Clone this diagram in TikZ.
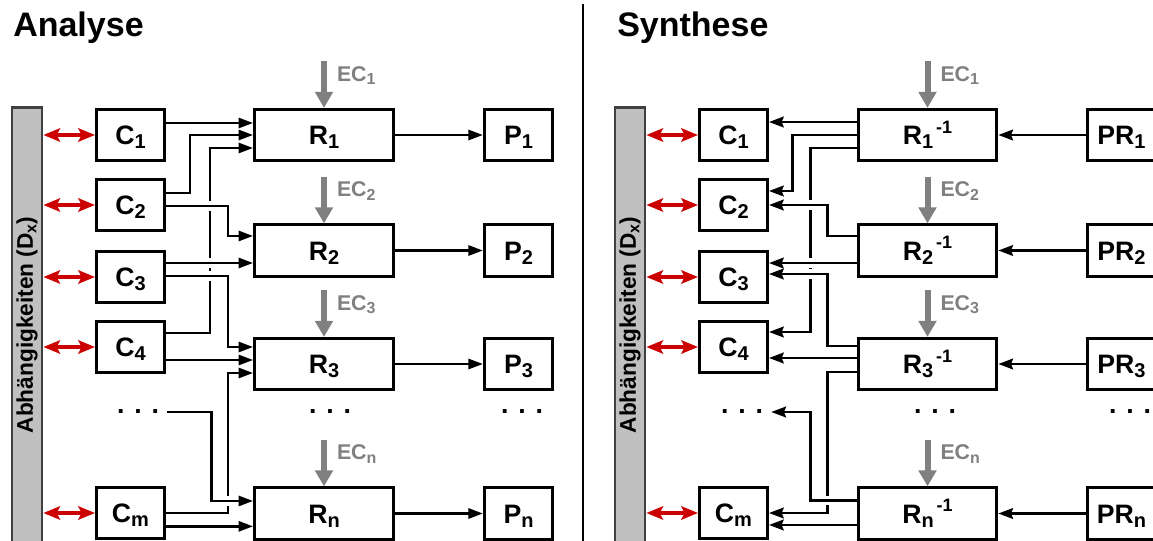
\documentclass[tikz,border=0pt]{standalone}
\usepackage{fontspec}
\setmainfont{Liberation Sans}
\usepackage{tikz}
\usetikzlibrary{arrows.meta, backgrounds, positioning}

\definecolor{depred}{RGB}{204,0,0}
\definecolor{ecgray}{RGB}{128,128,128}
\definecolor{barfill}{RGB}{192,192,192}
\definecolor{barline}{RGB}{64,64,64}

\newcommand{\lowtext}[2][15]{{\fontsize{#1}{#1}\selectfont\raisebox{-0.22em}{#2}}}
\newcommand{\hightext}[1]{{\kern2pt\fontsize{13.5}{13.5}\selectfont\raisebox{0.62em}{#1}}}

\tikzset{
  box/.style={draw, line width=2.2pt, fill=white, inner sep=0pt, minimum height=38.5pt,
    text height=16pt, text depth=1.7pt, font=\fontsize{20}{24}\selectfont\bfseries},
  cbox/.style={box, minimum width=51pt},
  rbox/.style={box, minimum width=104pt},
  dotrow/.style={inner xsep=6pt, inner ysep=0pt, font=\fontsize{20}{24}\selectfont\bfseries},
  depbar/.style={draw=barline, line width=2pt, fill=barfill, minimum width=22.5pt,
    minimum height=326pt, inner sep=0pt, font=\fontsize{17}{20}\selectfont\bfseries},
  heading/.style={anchor=base west, inner sep=0pt, font=\fontsize{25.5}{30}\selectfont\bfseries},
  link/.style={line width=2.1pt, -{Triangle[length=11pt, width=7.5pt]}},
  backlink/.style={line width=2.1pt, -{Stealth[length=11pt, width=8pt, inset=1.5pt]}},
  bridge/.style={preaction={draw=white, line width=7pt, -}},
  deparrow/.style={draw=depred, line width=3pt,
    {Stealth[length=12.5pt, width=10pt, inset=2.5pt]}-{Stealth[length=12.5pt, width=10pt, inset=2.5pt]}},
  ecarrow/.style={draw=ecgray, line width=4.5pt, -{Triangle[length=12pt, width=13pt]}},
  eclabel/.style={anchor=north west, inner sep=0pt, xshift=7.5pt, yshift=-1.5pt, text=ecgray,
    font=\fontsize{16}{19}\selectfont\bfseries},
}

\begin{document}
\begin{tikzpicture}[x=0.75pt, y=-0.75pt]
    \useasboundingbox (0,0) rectangle (1153,541);

    % Analyse
    \node[heading] (titleA) at (13,37) {Analyse};
    \node[depbar] (barA) at (27,325) {\rotatebox{90}{Abhängigkeiten (D\lowtext[12]{x})}};

    \node[cbox] (C1) at (130.5,135) {C\lowtext{1}};
    \node[cbox] (C2) at (130.5,205) {C\lowtext{2}};
    \node[cbox] (C3) at (130.5,277) {C\lowtext{3}};
    \node[cbox] (C4) at (130.5,347) {C\lowtext{4}};
    \node[dotrow] (Cdots) at (138,412) {. . .};
    \node[cbox] (Cm) at (130.5,513) {C\lowtext{m}};

    \node[rbox] (R1) at (324,135) {R\lowtext{1}};
    \node[rbox] (R2) at (324,250.5) {R\lowtext{2}};
    \node[rbox] (R3) at (324,364) {R\lowtext{3}};
    \node[dotrow] (Rdots) at (330,412) {. . .};
    \node[rbox] (Rn) at (324,513.5) {R\lowtext{n}};

    \node[cbox] (P1) at (518.5,135) {P\lowtext{1}};
    \node[cbox] (P2) at (518.5,250.5) {P\lowtext{2}};
    \node[cbox] (P3) at (518.5,364) {P\lowtext{3}};
    \node[dotrow] (Pdots) at (522,412) {. . .};
    \node[cbox] (Pn) at (518.5,513.5) {P\lowtext{n}};

    % Divider
    \draw[line width=1.5pt] (583,4) -- (583,541);

    % Synthese
    \node[heading] (titleS) at (617,37) {Synthese};
    \node[depbar] (barS) at (630,325) {\rotatebox{90}{Abhängigkeiten (D\lowtext[12]{x})}};

    \node[cbox] (C1s) at (733.5,135) {C\lowtext{1}};
    \node[cbox] (C2s) at (733.5,205) {C\lowtext{2}};
    \node[cbox] (C3s) at (733.5,277) {C\lowtext{3}};
    \node[cbox] (C4s) at (733.5,347) {C\lowtext{4}};
    \node[dotrow] (Cdotss) at (742,412) {. . .};
    \node[cbox] (Cms) at (733.5,513) {C\lowtext{m}};

    \node[rbox] (R1s) at (927.5,135) {R\lowtext{1}\hightext{-1}};
    \node[rbox] (R2s) at (927.5,250.5) {R\lowtext{2}\hightext{-1}};
    \node[rbox] (R3s) at (927.5,364) {R\lowtext{3}\hightext{-1}};
    \node[dotrow] (Rdotss) at (935,412) {. . .};
    \node[rbox] (Rns) at (927.5,513.5) {R\lowtext{n}\hightext{-1}};

    \node[cbox] (PR1) at (1121.5,135) {PR\lowtext{1}};
    \node[cbox] (PR2) at (1121.5,250.5) {PR\lowtext{2}};
    \node[cbox] (PR3) at (1121.5,364) {PR\lowtext{3}};
    \node[dotrow] (PRdots) at (1130,412) {. . .};
    \node[cbox] (PRn) at (1121.5,513.5) {PR\lowtext{n}};

    % External conditions
    \draw[ecarrow] ([yshift=35pt]R1.north) -- (R1.north) node[eclabel, pos=0] (ec1) {EC\lowtext[12]{1}};
    \draw[ecarrow] ([yshift=35pt]R2.north) -- (R2.north) node[eclabel, pos=0] (ec2) {EC\lowtext[12]{2}};
    \draw[ecarrow] ([yshift=35pt]R3.north) -- (R3.north) node[eclabel, pos=0] (ec3) {EC\lowtext[12]{3}};
    \draw[ecarrow] ([yshift=35pt]Rn.north) -- (Rn.north) node[eclabel, pos=0] (ecn) {EC\lowtext[12]{n}};
    \draw[ecarrow] ([yshift=35pt]R1s.north) -- (R1s.north) node[eclabel, pos=0] (ec1s) {EC\lowtext[12]{1}};
    \draw[ecarrow] ([yshift=35pt]R2s.north) -- (R2s.north) node[eclabel, pos=0] (ec2s) {EC\lowtext[12]{2}};
    \draw[ecarrow] ([yshift=35pt]R3s.north) -- (R3s.north) node[eclabel, pos=0] (ec3s) {EC\lowtext[12]{3}};
    \draw[ecarrow] ([yshift=35pt]Rns.north) -- (Rns.north) node[eclabel, pos=0] (ecns) {EC\lowtext[12]{n}};

    \begin{scope}[on background layer]
        % Dependencies
        \draw[deparrow] (C1.west -| barA.east) -- (C1.west);
        \draw[deparrow] (C2.west -| barA.east) -- (C2.west);
        \draw[deparrow] (C3.west -| barA.east) -- (C3.west);
        \draw[deparrow] (C4.west -| barA.east) -- (C4.west);
        \draw[deparrow] (Cm.west -| barA.east) -- (Cm.west);
        \draw[deparrow] (C1s.west -| barS.east) -- (C1s.west);
        \draw[deparrow] (C2s.west -| barS.east) -- (C2s.west);
        \draw[deparrow] (C3s.west -| barS.east) -- (C3s.west);
        \draw[deparrow] (C4s.west -| barS.east) -- (C4s.west);
        \draw[deparrow] (Cms.west -| barS.east) -- (Cms.west);

        % Analyse: C to R
        \draw[link] ([yshift=9pt]C1.east) -- ([yshift=9pt]C1.east -| R1.west);
        \draw[link] ([yshift=9pt]C2.east) -- ++(24,0) |- (R1.west);
        \draw[link] ([yshift=10.5pt]C4.east) -- ++(44,0) |- ([yshift=-9.75pt]R1.west);
        \draw[link] (Cm.east) -- ++(62,0) |- ([yshift=-6.75pt]R3.west);
        \draw[link] ([yshift=-9.75pt]C4.east) -- ([yshift=-9.75pt]C4.east -| R3.west);
        \draw[link] ([yshift=-10pt]Cm.east) -- ([yshift=-10pt]Cm.east -| Rn.west);
        \draw[link, bridge] ([yshift=-0.75pt]C2.east) -- ++(62,0) |- ([yshift=10.9pt]R2.west);
        \draw[link, bridge] ([yshift=10.5pt]C3.east) -- ([yshift=10.5pt]C3.east -| R2.west);
        \draw[link, bridge] ([yshift=0.75pt]C3.east) -- ++(62,0) |- ([yshift=12.75pt]R3.west);
        \draw[link, bridge] (Cdots.east) -- ++(44,0) |- ([yshift=9.4pt]Rn.west);

        % Analyse: R to P
        \draw[link] (R1.east) -- (P1.west);
        \draw[link] (R2.east) -- (P2.west);
        \draw[link] (R3.east) -- (P3.west);
        \draw[link] (Rn.east) -- (Pn.west);

        % Synthese: R^-1 to C
        \draw[backlink] ([yshift=9.75pt]R1s.west) -- ([yshift=9.75pt]R1s.west -| C1s.east);
        \draw[backlink] (R1s.west) -- ++(-64,0) |- ([yshift=10.5pt]C2s.east);
        \draw[backlink] ([yshift=-9.75pt]R1s.west) -- ++(-46,0) |- ([yshift=11.25pt]C4s.east);
        \draw[backlink] ([yshift=-6pt]R3s.west) -- ++(-29,0) |- (Cms.east);
        \draw[backlink] ([yshift=4.5pt]R3s.west) -- ([yshift=4.5pt]R3s.west -| C4s.east);
        \draw[backlink] ([yshift=-8.6pt]Rns.west) -- ([yshift=-8.6pt]Rns.west -| Cms.east);
        \draw[backlink, bridge] ([yshift=10.9pt]R2s.west) -- ++(-29,0) |- (C2s.east);
        \draw[backlink, bridge] ([yshift=-9.4pt]R2s.west) -- ([yshift=-9.4pt]R2s.west -| C3s.east);
        \draw[backlink, bridge] ([yshift=13.5pt]R3s.west) -- ++(-29,0) |- ([yshift=2.25pt]C3s.east);
        \draw[backlink, bridge] ([yshift=10pt]Rns.west) -- ++(-46,0) |- (Cdotss.east);

        % Synthese: PR to R^-1
        \draw[backlink] (PR1.west) -- (R1s.east);
        \draw[backlink] (PR2.west) -- (R2s.east);
        \draw[backlink] (PR3.west) -- (R3s.east);
        \draw[backlink] (PRn.west) -- (Rns.east);
    \end{scope}
\end{tikzpicture}
\end{document}
